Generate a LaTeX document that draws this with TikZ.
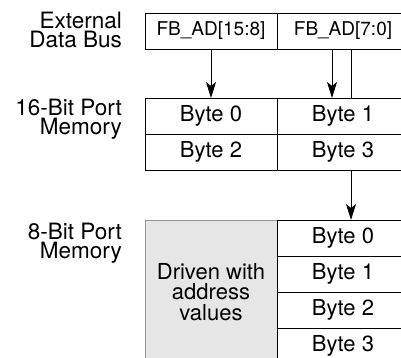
\documentclass[tikz,border=0pt]{standalone}
\usepackage{fontspec}
\setmainfont{TeX Gyre Heros}
\definecolor{grisclaro}{RGB}{230,230,230}
\definecolor{grisborde}{RGB}{150,150,150}
\usetikzlibrary{arrows.meta,positioning}

\begin{document}
\begin{tikzpicture}[x=1pt,y=-1pt,
    celda/.style={draw,line width=0.9pt,outer sep=0pt,inner sep=0pt,
      minimum width=132pt,minimum height=36pt,font=\fontsize{22}{24}\selectfont},
    bus/.style={celda,font=\fontsize{19}{21}\selectfont},
    etiqueta/.style={align=right,inner sep=0pt,anchor=north east,
      font=\fontsize{22.5}{19}\selectfont},
    flecha/.style={-{Stealth[length=16pt,width=10pt,inset=4pt]},line width=0.9pt}]
  \useasboundingbox (0,0) rectangle (401,357);
  % external bus
  \node[bus] (busA) at (211,31) {FB\_AD[15:8]};
  \node[bus,right=0pt of busA] (busB) {FB\_AD[7:0]};
  % 16-bit port
  \node[celda] (p16a) at (211,116) {Byte 0};
  \node[celda,right=0pt of p16a] (p16b) {Byte 1};
  \node[celda,below=0pt of p16a] (p16c) {Byte 2};
  \node[celda,right=0pt of p16c] (p16d) {Byte 3};
  % 8-bit port
  \node[celda,minimum height=144pt,fill=grisclaro,draw=grisborde,align=center,
        font=\fontsize{22}{20.5}\selectfont] (drv) at (211,292)
        {Driven with\\address\\values};
  \node[celda,anchor=north west] (p8a) at (drv.north east) {Byte 0};
  \node[celda,below=0pt of p8a] (p8b) {Byte 1};
  \node[celda,below=0pt of p8b] (p8c) {Byte 2};
  \node[celda,below=0pt of p8c] (p8d) {Byte 3};
  % labels
  \node[etiqueta] (lbus) at ([xshift=-23pt,yshift=1pt]busA.north west) {External\\Data Bus};
  \node[etiqueta] (l16) at ([xshift=-23pt,yshift=-1pt]p16a.north west) {16-Bit Port\\Memory};
  \node[etiqueta] (l8) at ([xshift=-23pt,yshift=-3pt]drv.north west) {8-Bit Port\\Memory};
  % connectors
  \draw[flecha] (busA) -- (p16a);
  \draw[flecha] ([xshift=-11pt]busB.south) -- ([xshift=-11pt]p16b.north);
  \draw[line width=0.9pt] ([xshift=8pt]busB.south) -- ([xshift=8pt]p16b.north);
  \draw[flecha] ([xshift=8pt]p16d.south) -- ([xshift=8pt]p8a.north);
\end{tikzpicture}
\end{document}
